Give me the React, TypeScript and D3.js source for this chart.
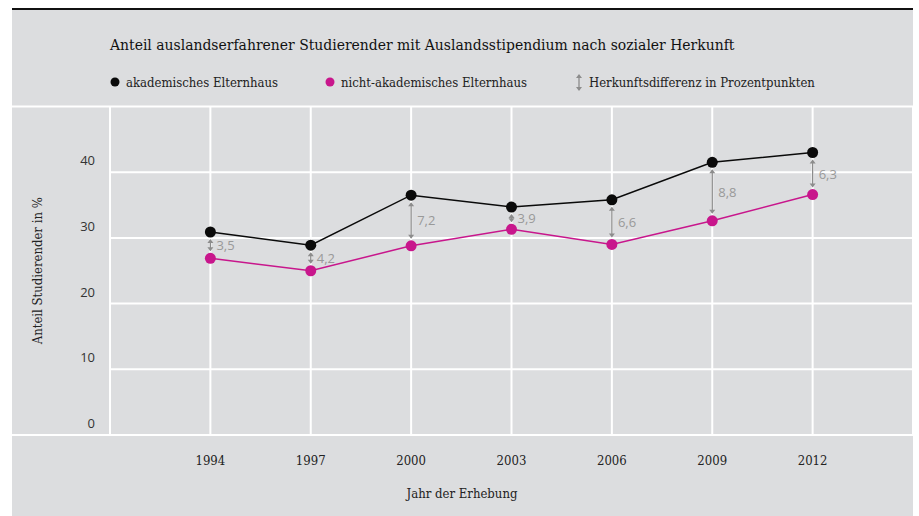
import React from "react";
import * as d3 from "d3";

const years = [1994, 1997, 2000, 2003, 2006, 2009, 2012];
const akademisch = [30.9, 28.9, 36.5, 34.7, 35.8, 41.5, 43.0];
const nichtAkademisch = [26.9, 25.0, 28.8, 31.3, 29.0, 32.6, 36.6];
const differenzLabels = ["3,5", "4,2", "7,2", "3,9", "6,6", "8,8", "6,3"];
const yTicks = [0, 10, 20, 30, 40];
const gridYears = [1991, 1994, 1997, 2000, 2003, 2006, 2009, 2012, 2015];

const title = "Anteil auslandserfahrener Studierender mit Auslandsstipendium nach sozialer Herkunft";
const legendLabels = ["akademisches Elternhaus", "nicht-akademisches Elternhaus", "Herkunftsdifferenz in Prozentpunkten"];
const yTitle = "Anteil Studierender in %";
const xTitle = "Jahr der Erhebung";

const BG = "#dcdddf";
const BLACK = "#0a0a0a";
const MAGENTA = "#c8168c";
const GRAY = "#8c8c8c";
const SERIF = "'DejaVu Serif Condensed', 'DejaVu Serif', serif";
const SANS = "'Open Sans', 'Noto Sans', sans-serif";

function Arrow({ x, y1, y2 }: { x: number; y1: number; y2: number }) {
  const h = 4;
  const w = 3;
  return (
    <g>
      <line x1={x} x2={x} y1={y1 + 1} y2={y2 - 1} stroke={GRAY} strokeWidth={1.3} />
      <path d={`M${x},${y1} L${x - w},${y1 + h} L${x + w},${y1 + h} Z`} fill={GRAY} />
      <path d={`M${x},${y2} L${x - w},${y2 - h} L${x + w},${y2 - h} Z`} fill={GRAY} />
    </g>
  );
}

export default function App() {
  const W = 919;
  const H = 516;
  const x = d3.scaleLinear().domain([1991, 2015]).range([110, 913]);
  const y = d3.scaleLinear().domain([0, 50]).range([435, 106.5]);
  const line = d3
    .line<number>()
    .x((_, i) => x(years[i]))
    .y((d) => y(d));

  return (
    <svg
      width={W}
      height={H}
      style={{ position: "absolute", left: 0, top: 0, display: "block" }}
    >
      <rect x={0} y={0} width={W} height={H} fill="#ffffff" />
      <rect x={12} y={9} width={901} height={H - 9} fill={BG} />
      <line x1={12} x2={913} y1={9} y2={9} stroke="#111" strokeWidth={2} />

      <text x={110} y={50} fontFamily={SERIF} fontSize={15.5} fill="#111">
        {title}
      </text>

      {/* legend */}
      <circle cx={115} cy={82} r={4.5} fill={BLACK} />
      <text x={126} y={87} fontFamily={SERIF} fontSize={13} fill="#222">
        {legendLabels[0]}
      </text>
      <circle cx={330} cy={82} r={4.5} fill={MAGENTA} />
      <text x={341} y={87} fontFamily={SERIF} fontSize={13} fill="#222">
        {legendLabels[1]}
      </text>
      <Arrow x={579} y1={74} y2={91} />
      <text x={589} y={87} fontFamily={SERIF} fontSize={13} fill="#222">
        {legendLabels[2]}
      </text>

      {/* grid */}
      {gridYears.map((g) => (
        <line key={"v" + g} x1={x(g)} x2={x(g)} y1={y(50)} y2={y(0)} stroke="#fff" strokeWidth={2} />
      ))}
      {yTicks.filter((t) => t > 0).map((t) => (
        <line key={"h" + t} x1={x(1991)} x2={x(2015)} y1={y(t)} y2={y(t)} stroke="#fff" strokeWidth={2} />
      ))}
      <line x1={12} x2={913} y1={y(50)} y2={y(50)} stroke="#fff" strokeWidth={2} />
      <line x1={12} x2={913} y1={y(0)} y2={y(0)} stroke="#fff" strokeWidth={2} />

      {/* y ticks */}
      {yTicks.map((t) => (
        <text key={"yt" + t} x={95} y={y(t) - 7} textAnchor="end" fontFamily={SANS} fontSize={13} fill="#333">
          {t}
        </text>
      ))}
      {/* x ticks */}
      {years.map((yr) => (
        <text key={"xt" + yr} x={x(yr)} y={465} textAnchor="middle" fontFamily={SERIF} fontSize={13} fill="#222">
          {yr}
        </text>
      ))}

      <text x={462} y={498} textAnchor="middle" fontFamily={SERIF} fontSize={13} fill="#222">
        {xTitle}
      </text>
      <text
        transform={`translate(42, ${y(25)}) rotate(-90)`}
        textAnchor="middle"
        fontFamily={SERIF}
        fontSize={13}
        fill="#222"
      >
        {yTitle}
      </text>

      {/* difference arrows */}
      {years.map((yr, i) => {
        const ya = y(akademisch[i]) + 7;
        const yn = y(nichtAkademisch[i]) - 7;
        return (
          <g key={"a" + yr}>
            <Arrow x={x(yr)} y1={ya} y2={yn} />
            <text
              x={x(yr) + 6}
              y={(ya + yn) / 2 + 5}
              fontFamily={SANS}
              fontSize={13}
              fill="#999"
            >
              {differenzLabels[i]}
            </text>
          </g>
        );
      })}

      <path d={line(akademisch) || ""} fill="none" stroke={BLACK} strokeWidth={1.5} />
      <path d={line(nichtAkademisch) || ""} fill="none" stroke={MAGENTA} strokeWidth={1.5} />
      {years.map((yr, i) => (
        <circle key={"pa" + yr} cx={x(yr)} cy={y(akademisch[i])} r={5.5} fill={BLACK} />
      ))}
      {years.map((yr, i) => (
        <circle key={"pn" + yr} cx={x(yr)} cy={y(nichtAkademisch[i])} r={5.5} fill={MAGENTA} />
      ))}
    </svg>
  );
}
